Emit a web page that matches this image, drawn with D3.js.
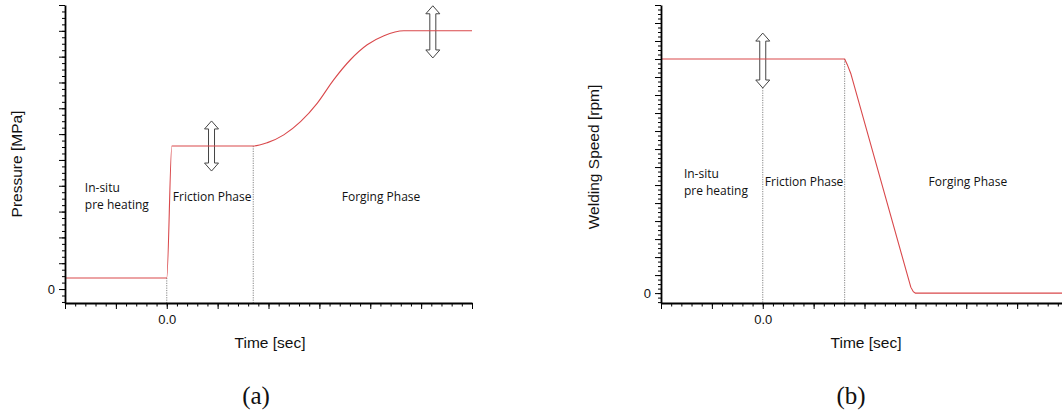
<!DOCTYPE html>
<html>
<head>
<meta charset="utf-8">
<script src="https://cdn.jsdelivr.net/npm/d3@7"></script>
<style>
	body { margin: 0; background: #fff; }
	svg { display: block; }
	.phase { font-family: "Open Sans", sans-serif; font-size: 12px; fill: #111; }
	.axis-title { font-family: "Liberation Sans", Arial, sans-serif; fill: #111; }
	.tick text { font-family: "Liberation Sans", Arial, sans-serif; font-size: 13px; fill: #111; }
	.caption { font-family: "Liberation Serif", serif; font-size: 25px; fill: #111; }
</style>
</head>
<body>
<svg id="chart" width="1062" height="416"></svg>
<script>
	/* --------------------- chart data ---------------------- */

	// time axis (one major tick per unit, only 0.0 is labelled)
	let timeMajorTicks = [-2, -1, 0, 1, 2, 3, 4, 5, 6];
	let timeTickLabels = {0: '0.0'};

	// (a) pressure curve
	let pressureTime = [-2, 0, 0.1, 1.70, 1.98, 2.30, 2.63, 2.96, 3.28, 3.61, 3.94, 4.27, 4.66, 6];
	let pressureValue = [0.43, 0.43, 5.54, 5.54, 5.67, 5.97, 6.48, 7.20, 8.10, 8.88, 9.46, 9.81, 10, 10];
	let pressureMajorTicks = [0, 1, 2, 3, 4, 5, 6, 7, 8, 9, 10, 11];
	let pressurePhaseEdges = [0, 1.70];

	// (b) welding speed curve
	let speedTime = [-2, 1.61, 1.66, 1.73, 2.91, 2.96, 3.0, 6];
	let speedValue = [13, 13, 12.7, 12.2, 0.33, 0.08, 0, 0];
	let speedMajorTicks = [0, 1, 2, 3, 4, 5, 6, 7, 8, 9, 10, 11, 12, 13, 14, 15, 16];
	let speedPhaseEdges = [0, 1.61];

	// phase names
	let phaseNames = [['In-situ', 'pre heating'], ['Friction Phase'], ['Forging Phase']];

	/* --------------------- drawing ---------------------- */

	let svg = d3.select('#chart');

	function drawPanel(p) {
		let g = svg.append('g');

		let x = d3.scaleLinear().domain([-2, 6]).range([p.left, p.left + 407]);
		let y = d3.scaleLinear().domain(p.yDomain).range([303, 5]);

		// dotted phase separators
		p.edges.forEach(function(t) {
			let i = p.time.indexOf(t);
			let v = i >= 0 ? p.value[i] : p.value[0];
			if (p.edgeTop !== undefined && t === 0) v = p.edgeTop;
			g.append('line')
				.attr('x1', x(t)).attr('x2', x(t))
				.attr('y1', y(v)).attr('y2', 303)
				.attr('stroke', '#666')
				.attr('stroke-width', 0.8)
				.attr('stroke-dasharray', '1.2,1.2');
		});

		// hollow double arrows
		p.arrows.forEach(function(a) {
			let cx = x(a[0]), top = y(a[1]), bot = y(a[2]);
			let hw = 7, sw = 3, hl = 8;
			let pts = [
				[cx, top], [cx + hw, top + hl], [cx + sw, top + hl], [cx + sw, bot - hl],
				[cx + hw, bot - hl], [cx, bot], [cx - hw, bot - hl], [cx - sw, bot - hl],
				[cx - sw, top + hl], [cx - hw, top + hl]
			];
			g.append('path')
				.attr('d', 'M' + pts.join('L') + 'Z')
				.attr('fill', '#fff')
				.attr('stroke', '#444')
				.attr('stroke-width', 1);
		});

		// the curve
		let line = d3.line()
			.x(d => x(d[0]))
			.y(d => y(d[1]))
			.curve(p.curve);
		g.append('path')
			.datum(d3.zip(p.time, p.value))
			.attr('d', line)
			.attr('fill', 'none')
			.attr('stroke', '#d9484b')
			.attr('stroke-width', 1.1);

		// phase labels
		p.labels.forEach(function(l, i) {
			let t = g.append('text')
				.attr('class', 'phase')
				.attr('x', x(l[0]))
				.attr('y', y(l[1]));
			phaseNames[i].forEach(function(s, k) {
				t.append('tspan')
					.attr('x', x(l[0]))
					.attr('dy', k === 0 ? 0 : 17)
					.text(s);
			});
		});

		// y axis: minor then major ticks
		let yMinor = d3.range(Math.ceil(p.yDomain[0] / 0.25) * 0.25, p.yDomain[1] + 0.001, 0.25);
		g.append('g')
			.attr('transform', 'translate(' + p.left + ',0)')
			.call(d3.axisLeft(y).tickValues(yMinor).tickSize(3).tickSizeOuter(0).tickFormat(''))
			.call(s => s.select('.domain').attr('stroke-width', 1.8));
		g.append('g')
			.attr('transform', 'translate(' + p.left + ',0)')
			.call(d3.axisLeft(y).tickValues(p.yTicks).tickSize(6).tickSizeOuter(0)
				.tickPadding(4).tickFormat(d => d === 0 ? '0' : ''))
			.call(s => s.select('.domain').remove());

		// x axis
		let xMinor = d3.range(-2, 6.001, 0.2);
		g.append('g')
			.attr('transform', 'translate(0,303)')
			.call(d3.axisBottom(x).tickValues(xMinor).tickSize(3.5).tickSizeOuter(0).tickFormat(''))
			.call(s => s.select('.domain').attr('stroke-width', 1.8));
		g.append('g')
			.attr('transform', 'translate(0,303)')
			.call(d3.axisBottom(x).tickValues(timeMajorTicks).tickSize(6).tickSizeOuter(0)
				.tickPadding(6).tickFormat(d => timeTickLabels[d] || ''))
			.call(s => s.select('.domain').remove());

		// titles
		g.append('text')
			.attr('class', 'axis-title')
			.attr('transform', 'translate(' + p.yTitleX + ',' + p.yTitleMid + ') rotate(-90)')
			.attr('text-anchor', 'middle')
			.style('font-size', '15.5px')
			.text(p.yTitle);
		g.append('text')
			.attr('class', 'axis-title')
			.attr('x', x(2.03))
			.attr('y', 348)
			.attr('text-anchor', 'middle')
			.style('font-size', '15.5px')
			.text('Time [sec]');
		g.append('text')
			.attr('class', 'caption')
			.attr('x', p.captionX)
			.attr('y', 404)
			.attr('text-anchor', 'middle')
			.text(p.caption);
	}

	drawPanel({
		left: 65,
		yDomain: [-0.54, 11],
		yTicks: pressureMajorTicks,
		time: pressureTime,
		value: pressureValue,
		curve: d3.curveMonotoneX,
		edges: pressurePhaseEdges,
		arrows: [[0.88, 6.51, 4.57], [5.23, 10.97, 8.95]],
		labels: [[-1.61, 3.76], [0.12, 3.41], [3.44, 3.41]],
		yTitle: 'Pressure [MPa]',
		yTitleX: 22,
		yTitleMid: 164,
		caption: '(a)',
		captionX: 256
	});

	drawPanel({
		left: 661,
		yDomain: [-0.55, 16],
		yTicks: speedMajorTicks,
		time: speedTime,
		value: speedValue,
		curve: d3.curveLinear,
		edges: speedPhaseEdges,
		edgeTop: 13,
		arrows: [[0, 14.44, 11.39]],
		labels: [[-1.55, 6.39], [0.04, 5.94], [3.26, 5.94]],
		yTitle: 'Welding Speed [rpm]',
		yTitleX: 599,
		yTitleMid: 157,
		caption: '(b)',
		captionX: 851
	});
</script>
</body>
</html>
